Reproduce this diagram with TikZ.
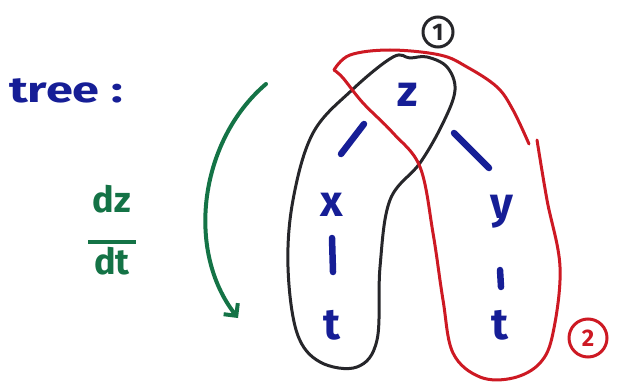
\documentclass[tikz,border=0pt]{standalone}
\usepackage{fontspec}
\setmainfont{Fira Sans}
\usetikzlibrary{arrows.meta}
\definecolor{ink}{RGB}{22,30,150}
\definecolor{grn}{RGB}{20,115,70}
\definecolor{rd}{RGB}{205,25,35}
\definecolor{blk}{RGB}{38,38,42}
\tikzset{
  lt/.style={text=ink,font=\bfseries\fontsize{44}{44}\selectfont,inner sep=0pt},
  edgestroke/.style={draw=ink,line width=6.5pt,line cap=round},
  loop/.style={line width=3pt,line cap=round,line join=round},
  tag/.style={circle,line width=3pt,inner sep=1pt,minimum size=30pt,font=\bfseries\fontsize{24}{24}\selectfont}
}
\begin{document}
\begin{tikzpicture}[x=1pt,y=-1pt]
\useasboundingbox (0,0) rectangle (620,385);
% labels
\node[text=ink,font=\bfseries\fontsize{36}{36}\selectfont,anchor=west,inner sep=0pt] (title) at (9,91) {\scalebox{1.35}[1]{tree :}};
\node[text=grn,font=\bfseries\fontsize{36}{36}\selectfont,align=center,inner sep=0pt] (frac) at (112,230)
  {dz\\[-4pt]\rule{48pt}{4pt}\\[-6pt]dt};
% green arrow
\coordinate (ga) at (266,84);
\coordinate (gb) at (238,318);
\draw[grn,line width=4pt,line cap=round,-{Straight Barb[length=9pt,width=18pt,line width=4pt]}]
  (ga) .. controls (200,140) and (185,250) .. (gb);
% tree letters
\node[lt] (z) at (408,95) {z};
\node[lt] (x) at (332,205) {x};
\node[lt] (y) at (502,212) {y};
\node[lt] (t1) at (332,325) {t};
\node[lt] (t2) at (500,325) {t};
% edges
\coordinate (e1a) at (364,124); \coordinate (e1b) at (341,154);
\coordinate (e2a) at (454,133); \coordinate (e2b) at (489,168);
\coordinate (e3a) at (332,238); \coordinate (e3b) at (333,272);
\coordinate (e4a) at (500,270); \coordinate (e4b) at (501,287);
\draw[edgestroke] (e1a) -- (e1b);
\draw[edgestroke] (e2a) -- (e2b);
\draw[edgestroke] (e3a) -- (e3b);
\draw[edgestroke] (e4a) -- (e4b);
% black loop
\draw[blk,loop] plot[smooth cycle,tension=0.6] coordinates {
  (393,57) (352,90) (313,133) (293,200) (288,267) (297,333) (320,362) (357,367)
  (377,340) (380,267) (390,200) (420,163) (443,123) (455,90) (447,67) (427,57) (410,58)};
% red loop
\draw[rd,loop] plot[smooth,tension=0.6] coordinates {
  (537,140) (547,200) (560,267) (553,333) (540,363) (513,378) (480,377) (453,353)
  (443,300) (433,233) (420,167) (393,133) (363,103) (343,78) (334,70)};
\draw[rd,loop] plot[smooth,tension=0.6] coordinates {
  (334,70) (350,55) (390,50) (440,55) (467,67) (497,87) (513,110) (529,144)};
% tags
\node[tag,draw=blk,text=blk] (one) at (438,32) {1};
\node[tag,draw=rd,text=rd,minimum size=38pt] (two) at (588,338) {2};
\end{tikzpicture}
\end{document}
